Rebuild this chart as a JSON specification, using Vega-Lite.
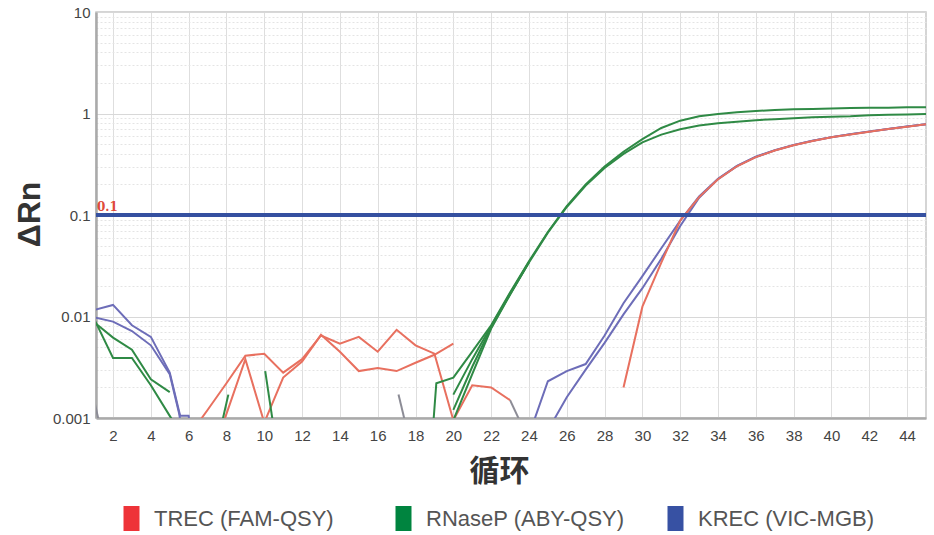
{
  "$schema": "https://vega.github.io/schema/vega-lite/v6.json",
  "width": 830,
  "height": 406,
  "autosize": {"type": "none"},
  "padding": {"left": 96, "top": 12, "right": 8, "bottom": 117},
  "background": "white",
  "config": {
    "view": {"stroke": "#c8c8c8", "strokeWidth": 1.5},
    "font": "Liberation Sans",
    "axis": {"labelOverlap": false}
  },
  "datasets": {
    "curves": [
      {"id": "k_e1", "g": "KREC", "c": 1, "v": 0.0116}, {"id": "k_e1", "g": "KREC", "c": 2, "v": 0.013}, {"id": "k_e1", "g": "KREC", "c": 3, "v": 0.0082}, {"id": "k_e1", "g": "KREC", "c": 4, "v": 0.0063}, {"id": "k_e1", "g": "KREC", "c": 5, "v": 0.0028}, {"id": "k_e1", "g": "KREC", "c": 5.55, "v": 0.00105}, {"id": "k_e1", "g": "KREC", "c": 6, "v": 0.00105}, {"id": "k_e1", "g": "KREC", "c": 6.2, "v": 0.0006},
      {"id": "k_e2", "g": "KREC", "c": 1, "v": 0.0098}, {"id": "k_e2", "g": "KREC", "c": 2, "v": 0.0089}, {"id": "k_e2", "g": "KREC", "c": 3, "v": 0.0072}, {"id": "k_e2", "g": "KREC", "c": 4, "v": 0.0052}, {"id": "k_e2", "g": "KREC", "c": 5, "v": 0.0027}, {"id": "k_e2", "g": "KREC", "c": 5.5, "v": 0.0011}, {"id": "k_e2", "g": "KREC", "c": 5.8, "v": 0.0005},
      {"id": "k_a1", "g": "KREC", "c": 23.9, "v": 0.0006}, {"id": "k_a1", "g": "KREC", "c": 25, "v": 0.0023}, {"id": "k_a1", "g": "KREC", "c": 26, "v": 0.0029}, {"id": "k_a1", "g": "KREC", "c": 27, "v": 0.0034}, {"id": "k_a1", "g": "KREC", "c": 28, "v": 0.0065}, {"id": "k_a1", "g": "KREC", "c": 29, "v": 0.0135}, {"id": "k_a1", "g": "KREC", "c": 30, "v": 0.025}, {"id": "k_a1", "g": "KREC", "c": 31, "v": 0.047}, {"id": "k_a1", "g": "KREC", "c": 32, "v": 0.088}, {"id": "k_a1", "g": "KREC", "c": 33, "v": 0.152}, {"id": "k_a1", "g": "KREC", "c": 34, "v": 0.228}, {"id": "k_a1", "g": "KREC", "c": 35, "v": 0.305}, {"id": "k_a1", "g": "KREC", "c": 36, "v": 0.375}, {"id": "k_a1", "g": "KREC", "c": 37, "v": 0.435}, {"id": "k_a1", "g": "KREC", "c": 38, "v": 0.49}, {"id": "k_a1", "g": "KREC", "c": 39, "v": 0.54}, {"id": "k_a1", "g": "KREC", "c": 40, "v": 0.585}, {"id": "k_a1", "g": "KREC", "c": 41, "v": 0.625}, {"id": "k_a1", "g": "KREC", "c": 42, "v": 0.665}, {"id": "k_a1", "g": "KREC", "c": 43, "v": 0.705}, {"id": "k_a1", "g": "KREC", "c": 44, "v": 0.745}, {"id": "k_a1", "g": "KREC", "c": 45, "v": 0.785},
      {"id": "k_a2", "g": "KREC", "c": 24.9, "v": 0.0007}, {"id": "k_a2", "g": "KREC", "c": 26, "v": 0.0016}, {"id": "k_a2", "g": "KREC", "c": 27, "v": 0.003}, {"id": "k_a2", "g": "KREC", "c": 28, "v": 0.0055}, {"id": "k_a2", "g": "KREC", "c": 29, "v": 0.0105}, {"id": "k_a2", "g": "KREC", "c": 30, "v": 0.019}, {"id": "k_a2", "g": "KREC", "c": 31, "v": 0.037}, {"id": "k_a2", "g": "KREC", "c": 32, "v": 0.078}, {"id": "k_a2", "g": "KREC", "c": 33, "v": 0.148}, {"id": "k_a2", "g": "KREC", "c": 34, "v": 0.226}, {"id": "k_a2", "g": "KREC", "c": 35, "v": 0.303}, {"id": "k_a2", "g": "KREC", "c": 36, "v": 0.373}, {"id": "k_a2", "g": "KREC", "c": 37, "v": 0.433}, {"id": "k_a2", "g": "KREC", "c": 38, "v": 0.488}, {"id": "k_a2", "g": "KREC", "c": 39, "v": 0.538}, {"id": "k_a2", "g": "KREC", "c": 40, "v": 0.583}, {"id": "k_a2", "g": "KREC", "c": 41, "v": 0.623}, {"id": "k_a2", "g": "KREC", "c": 42, "v": 0.663}, {"id": "k_a2", "g": "KREC", "c": 43, "v": 0.703}, {"id": "k_a2", "g": "KREC", "c": 44, "v": 0.743}, {"id": "k_a2", "g": "KREC", "c": 45, "v": 0.783},
      {"id": "o1", "g": "other", "c": 1, "v": 0.0015}, {"id": "o1", "g": "other", "c": 1.4, "v": 0.0007},
      {"id": "o2", "g": "other", "c": 17.1, "v": 0.0017}, {"id": "o2", "g": "other", "c": 17.6, "v": 0.0007},
      {"id": "o3", "g": "other", "c": 23, "v": 0.0015}, {"id": "o3", "g": "other", "c": 24, "v": 0.0006},
      {"id": "r1", "g": "TREC", "c": 6, "v": 0.00066}, {"id": "r1", "g": "TREC", "c": 7, "v": 0.0012}, {"id": "r1", "g": "TREC", "c": 8, "v": 0.0022}, {"id": "r1", "g": "TREC", "c": 9, "v": 0.0041}, {"id": "r1", "g": "TREC", "c": 10, "v": 0.0043}, {"id": "r1", "g": "TREC", "c": 11, "v": 0.0028}, {"id": "r1", "g": "TREC", "c": 12, "v": 0.0038}, {"id": "r1", "g": "TREC", "c": 13, "v": 0.0065}, {"id": "r1", "g": "TREC", "c": 14, "v": 0.0054}, {"id": "r1", "g": "TREC", "c": 15, "v": 0.0063}, {"id": "r1", "g": "TREC", "c": 16, "v": 0.0045}, {"id": "r1", "g": "TREC", "c": 17, "v": 0.0074}, {"id": "r1", "g": "TREC", "c": 18, "v": 0.0052}, {"id": "r1", "g": "TREC", "c": 19, "v": 0.0043}, {"id": "r1", "g": "TREC", "c": 20, "v": 0.00095}, {"id": "r1", "g": "TREC", "c": 21, "v": 0.0021}, {"id": "r1", "g": "TREC", "c": 22, "v": 0.002}, {"id": "r1", "g": "TREC", "c": 23, "v": 0.0015},
      {"id": "r2", "g": "TREC", "c": 7, "v": 0.00032}, {"id": "r2", "g": "TREC", "c": 8, "v": 0.0011}, {"id": "r2", "g": "TREC", "c": 9, "v": 0.0038}, {"id": "r2", "g": "TREC", "c": 10, "v": 0.0009}, {"id": "r2", "g": "TREC", "c": 11, "v": 0.0025}, {"id": "r2", "g": "TREC", "c": 12, "v": 0.0036}, {"id": "r2", "g": "TREC", "c": 13, "v": 0.0066}, {"id": "r2", "g": "TREC", "c": 14, "v": 0.0045}, {"id": "r2", "g": "TREC", "c": 15, "v": 0.0029}, {"id": "r2", "g": "TREC", "c": 16, "v": 0.0031}, {"id": "r2", "g": "TREC", "c": 17, "v": 0.0029}, {"id": "r2", "g": "TREC", "c": 18, "v": 0.0035}, {"id": "r2", "g": "TREC", "c": 19, "v": 0.0042}, {"id": "r2", "g": "TREC", "c": 20, "v": 0.0054},
      {"id": "t1", "g": "TREC", "c": 29, "v": 0.002}, {"id": "t1", "g": "TREC", "c": 30, "v": 0.0125}, {"id": "t1", "g": "TREC", "c": 31, "v": 0.034}, {"id": "t1", "g": "TREC", "c": 32, "v": 0.088}, {"id": "t1", "g": "TREC", "c": 33, "v": 0.15}, {"id": "t1", "g": "TREC", "c": 34, "v": 0.225}, {"id": "t1", "g": "TREC", "c": 35, "v": 0.302}, {"id": "t1", "g": "TREC", "c": 36, "v": 0.372}, {"id": "t1", "g": "TREC", "c": 37, "v": 0.432}, {"id": "t1", "g": "TREC", "c": 38, "v": 0.487}, {"id": "t1", "g": "TREC", "c": 39, "v": 0.537}, {"id": "t1", "g": "TREC", "c": 40, "v": 0.582}, {"id": "t1", "g": "TREC", "c": 41, "v": 0.622}, {"id": "t1", "g": "TREC", "c": 42, "v": 0.662}, {"id": "t1", "g": "TREC", "c": 43, "v": 0.702}, {"id": "t1", "g": "TREC", "c": 44, "v": 0.742}, {"id": "t1", "g": "TREC", "c": 45, "v": 0.782},
      {"id": "g_e1", "g": "RNaseP", "c": 1, "v": 0.0095}, {"id": "g_e1", "g": "RNaseP", "c": 2, "v": 0.0039}, {"id": "g_e1", "g": "RNaseP", "c": 3, "v": 0.0039}, {"id": "g_e1", "g": "RNaseP", "c": 4, "v": 0.0021}, {"id": "g_e1", "g": "RNaseP", "c": 5, "v": 0.00105}, {"id": "g_e1", "g": "RNaseP", "c": 5.4, "v": 0.0008},
      {"id": "g_e2", "g": "RNaseP", "c": 1, "v": 0.0088}, {"id": "g_e2", "g": "RNaseP", "c": 2, "v": 0.0062}, {"id": "g_e2", "g": "RNaseP", "c": 3, "v": 0.0047}, {"id": "g_e2", "g": "RNaseP", "c": 4, "v": 0.0024}, {"id": "g_e2", "g": "RNaseP", "c": 5, "v": 0.0018},
      {"id": "g_s1", "g": "RNaseP", "c": 7.7, "v": 0.0008}, {"id": "g_s1", "g": "RNaseP", "c": 8.1, "v": 0.0017},
      {"id": "g_s2", "g": "RNaseP", "c": 10.05, "v": 0.0029}, {"id": "g_s2", "g": "RNaseP", "c": 10.6, "v": 0.0006},
      {"id": "g_m1", "g": "RNaseP", "c": 18.9, "v": 0.0007}, {"id": "g_m1", "g": "RNaseP", "c": 19.1, "v": 0.0022}, {"id": "g_m1", "g": "RNaseP", "c": 20, "v": 0.0025}, {"id": "g_m1", "g": "RNaseP", "c": 21, "v": 0.0045}, {"id": "g_m1", "g": "RNaseP", "c": 22, "v": 0.0082}, {"id": "g_m1", "g": "RNaseP", "c": 23, "v": 0.0172}, {"id": "g_m1", "g": "RNaseP", "c": 24, "v": 0.035}, {"id": "g_m1", "g": "RNaseP", "c": 25, "v": 0.068}, {"id": "g_m1", "g": "RNaseP", "c": 26, "v": 0.122}, {"id": "g_m1", "g": "RNaseP", "c": 27, "v": 0.2}, {"id": "g_m1", "g": "RNaseP", "c": 28, "v": 0.3}, {"id": "g_m1", "g": "RNaseP", "c": 29, "v": 0.42}, {"id": "g_m1", "g": "RNaseP", "c": 30, "v": 0.56}, {"id": "g_m1", "g": "RNaseP", "c": 31, "v": 0.72}, {"id": "g_m1", "g": "RNaseP", "c": 32, "v": 0.85}, {"id": "g_m1", "g": "RNaseP", "c": 33, "v": 0.94}, {"id": "g_m1", "g": "RNaseP", "c": 34, "v": 0.99}, {"id": "g_m1", "g": "RNaseP", "c": 35, "v": 1.03}, {"id": "g_m1", "g": "RNaseP", "c": 36, "v": 1.06}, {"id": "g_m1", "g": "RNaseP", "c": 37, "v": 1.08}, {"id": "g_m1", "g": "RNaseP", "c": 38, "v": 1.1}, {"id": "g_m1", "g": "RNaseP", "c": 39, "v": 1.11}, {"id": "g_m1", "g": "RNaseP", "c": 40, "v": 1.12}, {"id": "g_m1", "g": "RNaseP", "c": 41, "v": 1.13}, {"id": "g_m1", "g": "RNaseP", "c": 42, "v": 1.14}, {"id": "g_m1", "g": "RNaseP", "c": 43, "v": 1.14}, {"id": "g_m1", "g": "RNaseP", "c": 44, "v": 1.15}, {"id": "g_m1", "g": "RNaseP", "c": 45, "v": 1.15},
      {"id": "g_m2", "g": "RNaseP", "c": 20, "v": 0.0017}, {"id": "g_m2", "g": "RNaseP", "c": 21, "v": 0.0038}, {"id": "g_m2", "g": "RNaseP", "c": 22, "v": 0.008}, {"id": "g_m2", "g": "RNaseP", "c": 23, "v": 0.0168}, {"id": "g_m2", "g": "RNaseP", "c": 24, "v": 0.034}, {"id": "g_m2", "g": "RNaseP", "c": 25, "v": 0.067}, {"id": "g_m2", "g": "RNaseP", "c": 26, "v": 0.12}, {"id": "g_m2", "g": "RNaseP", "c": 27, "v": 0.195}, {"id": "g_m2", "g": "RNaseP", "c": 28, "v": 0.29}, {"id": "g_m2", "g": "RNaseP", "c": 29, "v": 0.4}, {"id": "g_m2", "g": "RNaseP", "c": 30, "v": 0.52}, {"id": "g_m2", "g": "RNaseP", "c": 31, "v": 0.62}, {"id": "g_m2", "g": "RNaseP", "c": 32, "v": 0.7}, {"id": "g_m2", "g": "RNaseP", "c": 33, "v": 0.76}, {"id": "g_m2", "g": "RNaseP", "c": 34, "v": 0.8}, {"id": "g_m2", "g": "RNaseP", "c": 35, "v": 0.83}, {"id": "g_m2", "g": "RNaseP", "c": 36, "v": 0.86}, {"id": "g_m2", "g": "RNaseP", "c": 37, "v": 0.88}, {"id": "g_m2", "g": "RNaseP", "c": 38, "v": 0.9}, {"id": "g_m2", "g": "RNaseP", "c": 39, "v": 0.92}, {"id": "g_m2", "g": "RNaseP", "c": 40, "v": 0.93}, {"id": "g_m2", "g": "RNaseP", "c": 41, "v": 0.94}, {"id": "g_m2", "g": "RNaseP", "c": 42, "v": 0.96}, {"id": "g_m2", "g": "RNaseP", "c": 43, "v": 0.97}, {"id": "g_m2", "g": "RNaseP", "c": 44, "v": 0.98}, {"id": "g_m2", "g": "RNaseP", "c": 45, "v": 0.99},
      {"id": "g_m3", "g": "RNaseP", "c": 20, "v": 0.0012}, {"id": "g_m3", "g": "RNaseP", "c": 21, "v": 0.0032}, {"id": "g_m3", "g": "RNaseP", "c": 22, "v": 0.0078}, {"id": "g_m3", "g": "RNaseP", "c": 23, "v": 0.0166}, {"id": "g_m3", "g": "RNaseP", "c": 24, "v": 0.0345},
      {"id": "g_m4", "g": "RNaseP", "c": 19.8, "v": 0.0007}, {"id": "g_m4", "g": "RNaseP", "c": 20, "v": 0.00095}, {"id": "g_m4", "g": "RNaseP", "c": 21, "v": 0.0027}, {"id": "g_m4", "g": "RNaseP", "c": 22, "v": 0.0076}, {"id": "g_m4", "g": "RNaseP", "c": 23, "v": 0.0164}, {"id": "g_m4", "g": "RNaseP", "c": 24, "v": 0.0342}
    ],
    "threshold": [{"c": 1.1, "v": 0.1, "label": "0.1"}],
    "legendItems": [
      {"name": "TREC (FAM-QSY)"},
      {"name": "RNaseP (ABY-QSY)"},
      {"name": "KREC (VIC-MGB)"}
    ]
  },
  "layer": [
    {
      "encoding": {
        "x": {
          "field": "c",
          "type": "quantitative",
          "scale": {"domain": [1.1, 45], "nice": false, "zero": false},
          "axis": {
            "title": "循环",
            "values": [2, 4, 6, 8, 10, 12, 14, 16, 18, 20, 22, 24, 26, 28, 30, 32, 34, 36, 38, 40, 42, 44],
            "format": "d",
            "labelOverlap": false,
            "ticks": false,
            "labelPadding": 10,
            "labelFontSize": 15,
            "labelColor": "#444444",
            "labelFont": "Liberation Sans",
            "domainColor": "#aaaaaa",
            "domainWidth": 2.5,
            "grid": true,
            "gridColor": "#dedede",
            "gridWidth": 1,
            "titleFont": "Noto Sans CJK SC",
            "titleFontWeight": "bold",
            "titleFontSize": 30,
            "titleColor": "#333333",
            "titleX": 403,
            "titleY": 38,
            "titleBaseline": "top"
          }
        },
        "y": {
          "field": "v",
          "type": "quantitative",
          "scale": {"type": "log", "domain": [0.001, 10], "nice": false},
          "axis": {
            "title": "ΔRn",
            "values": [0.001, 0.002, 0.003, 0.004, 0.005, 0.006, 0.007, 0.008, 0.009, 0.01, 0.02, 0.03, 0.04, 0.05, 0.06, 0.07, 0.08, 0.09, 0.1, 0.2, 0.3, 0.4, 0.5, 0.6, 0.7, 0.8, 0.9, 1, 2, 3, 4, 5, 6, 7, 8, 9, 10],
            "format": "~g",
            "labelExpr": "(datum.value == 0.001 || datum.value == 0.01 || datum.value == 0.1 || datum.value == 1 || datum.value == 10) ? datum.label : ''",
            "labelOverlap": false,
            "ticks": false,
            "labelPadding": 6,
            "labelFontSize": 15,
            "labelColor": "#444444",
            "labelFont": "Liberation Sans",
            "domainColor": "#aaaaaa",
            "domainWidth": 2.5,
            "grid": true,
            "gridColor": {"condition": {"test": "datum.value == 0.001 || datum.value == 0.01 || datum.value == 0.1 || datum.value == 1 || datum.value == 10", "value": "#d8d8d8"}, "value": "#e4e4e4"},
            "gridDash": {"condition": {"test": "datum.value == 0.001 || datum.value == 0.01 || datum.value == 0.1 || datum.value == 1 || datum.value == 10", "value": []}, "value": [2, 2]},
            "titleFont": "Liberation Sans",
            "titleFontWeight": "bold",
            "titleFontSize": 32,
            "titleColor": "#333333",
            "titleX": -50,
            "titleY": 202
          }
        }
      },
      "layer": [
        {
          "data": {"name": "curves"},
          "transform": [{"filter": "datum.g == 'KREC' || datum.g == 'other'"}],
          "mark": {"type": "line", "clip": true, "strokeWidth": 2},
          "encoding": {
            "detail": {"field": "id"},
            "stroke": {"field": "g", "type": "nominal", "scale": {"domain": ["TREC", "RNaseP", "KREC", "other"], "range": ["#e8705f", "#2f8a45", "#6d6db8", "#8c8c96"]}, "legend": null}
          }
        },
        {
          "data": {"name": "curves"},
          "transform": [{"filter": "datum.g == 'TREC'"}],
          "mark": {"type": "line", "clip": true, "strokeWidth": 2},
          "encoding": {
            "detail": {"field": "id"},
            "stroke": {"field": "g", "type": "nominal", "legend": null}
          }
        },
        {
          "data": {"name": "curves"},
          "transform": [{"filter": "datum.g == 'RNaseP'"}],
          "mark": {"type": "line", "clip": true, "strokeWidth": 2},
          "encoding": {
            "detail": {"field": "id"},
            "stroke": {"field": "g", "type": "nominal", "legend": null}
          }
        },
        {
          "data": {"name": "threshold"},
          "mark": {"type": "text", "align": "left", "baseline": "bottom", "dx": 1, "dy": -1, "font": "DejaVu Serif", "fontWeight": "bold", "fontSize": 12, "color": "#e04a3a"},
          "encoding": {
            "text": {"field": "label"}
          }
        }
      ]
    },
    {
      "data": {"name": "threshold"},
      "mark": {"type": "rule", "color": "#3550a0", "strokeWidth": 4},
      "encoding": {
        "y": {"field": "v", "type": "quantitative"}
      }
    },
    {
      "data": {"name": "legendItems"},
      "mark": {"type": "square", "opacity": 0},
      "encoding": {
        "fill": {
          "field": "name",
          "type": "nominal",
          "scale": {"domain": ["TREC (FAM-QSY)", "RNaseP (ABY-QSY)", "KREC (VIC-MGB)"], "range": ["#ee3338", "#00843f", "#3751a3"]},
          "legend": {
            "title": null,
            "orient": "none",
            "legendX": 23,
            "legendY": 494,
            "direction": "horizontal",
            "symbolType": "M-0.64,-1H0.64V1H-0.64Z",
            "symbolSize": 625,
            "symbolOpacity": 1,
            "symbolStrokeWidth": 0,
            "labelFontSize": 22,
            "labelLimit": 400,
            "labelColor": "#555555",
            "labelFont": "Liberation Sans",
            "labelOffset": 10,
            "columnPadding": 38,
            "gridAlign": "all",
            "padding": 0
          }
        }
      }
    }
  ]
}
